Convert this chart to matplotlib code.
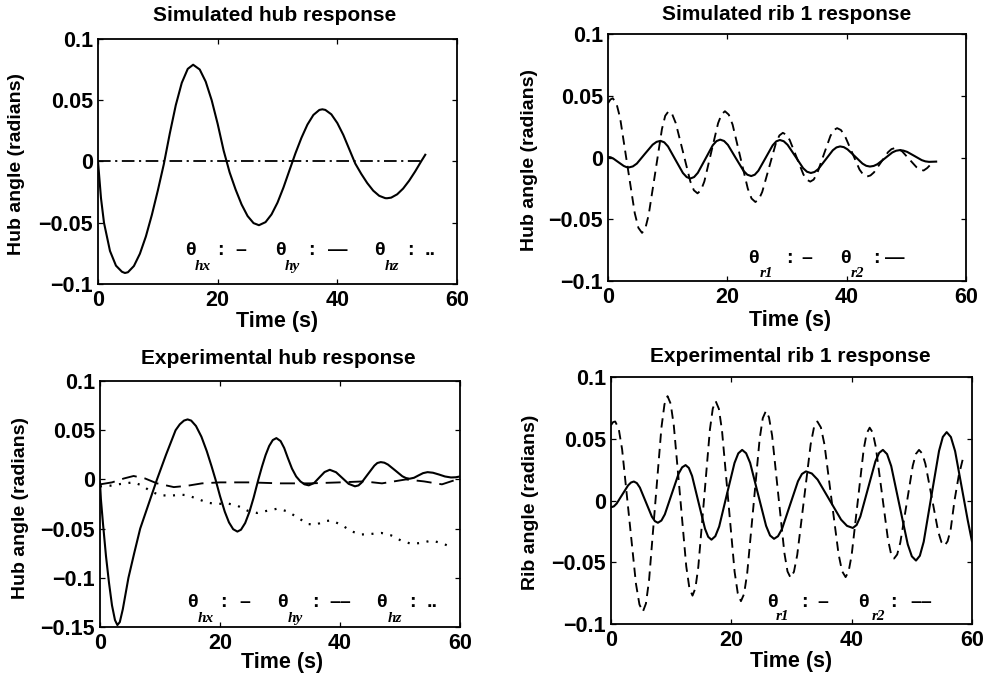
import matplotlib
matplotlib.use("Agg")
import matplotlib.pyplot as plt

plt.rcParams['font.family'] = ['Liberation Sans', 'DejaVu Sans']
plt.rcParams['font.weight'] = 'bold'
plt.rcParams['axes.unicode_minus'] = True

# ---------------- data ----------------
x_ticks = [0, 20, 40, 60]
x_tick_labels = ["0", "20", "40", "60"]
y_ticks_a = [-0.1, -0.05, 0, 0.05, 0.1]
y_tick_labels_a = ["\u22120.1", "\u22120.05", "0", "0.05", "0.1"]
y_ticks_b = [-0.15, -0.1, -0.05, 0, 0.05, 0.1]
y_tick_labels_b = ["\u22120.15", "\u22120.1", "\u22120.05", "0", "0.05", "0.1"]

titles = ["Simulated hub response", "Simulated rib 1 response",
          "Experimental hub response", "Experimental rib 1 response"]
ylabels = ["Hub angle (radians)", "Hub angle (radians)",
           "Hub angle (radians)", "Rib angle (radians)"]
xlabel = "Time (s)"

# Simulated hub: theta_hx
sim_hx_t = [0, 0.5, 1, 2, 3, 4, 4.5, 5, 6, 7, 8, 9, 10, 11, 12, 13, 14, 15, 15.9,
            17, 18, 19, 20, 21, 22, 23, 24, 25, 26, 26.9, 28, 29, 30, 31, 32, 33,
            34, 35, 36, 37, 37.5, 38, 39, 40, 41, 42, 43, 44, 45, 46, 47, 48, 48.3,
            49, 50, 51, 52, 53, 54, 54.7]
sim_hx = [0, -0.030, -0.050, -0.073, -0.085, -0.090, -0.091, -0.0904, -0.0853,
          -0.0753, -0.0612, -0.0436, -0.0236, -0.0022, 0.0229, 0.0460, 0.0642,
          0.0756, 0.079, 0.0751, 0.0652, 0.0500, 0.0307, 0.0089, -0.0089, -0.0229,
          -0.0351, -0.0445, -0.0503, -0.052, -0.0495, -0.0432, -0.0336, -0.0212,
          -0.0072, 0.0067, 0.0193, 0.0301, 0.0380, 0.0421, 0.0426, 0.0421, 0.0385,
          0.0314, 0.0217, 0.0100, -0.0017, -0.0101, -0.0176, -0.0238, -0.0280,
          -0.0299, -0.030, -0.0295, -0.0268, -0.0221, -0.0157, -0.0082, 0.0, 0.0055]
# Simulated hub: theta_hy / theta_hz (both at zero)
sim_hyz_t = [0, 54.7]
sim_hyz = [0, 0]

# Simulated rib 1: theta_r1 (solid)
sim_r1_t = [0, 0.44, 0.88, 1.75, 2.63, 3.06, 3.5, 4.16, 4.83, 6.15, 7.48, 8.14, 8.8,
            9.43, 10.05, 11.3, 12.55, 13.18, 13.8, 14.43, 15.05, 16.3, 17.55, 18.18,
            18.8, 19.45, 20.1, 21.4, 22.7, 23.35, 24.0, 24.6, 25.2, 26.4, 27.6, 28.2,
            28.8, 29.45, 30.1, 31.4, 32.7, 33.35, 34.0, 34.61, 35.23, 36.45, 37.68,
            38.29, 38.9, 39.53, 40.15, 41.4, 42.65, 43.28, 43.9, 44.53, 45.15, 46.4,
            47.65, 48.28, 48.9, 49.51, 50.13, 51.35, 52.58, 53.19, 53.8, 55.0]
sim_r1 = [0.0005, 0.0002, -0.0008, -0.0038, -0.0068, -0.0077, -0.0080, -0.0072,
          -0.0049, 0.0028, 0.0104, 0.0127, 0.0135, 0.0123, 0.0090, -0.0018, -0.0125,
          -0.0158, -0.0170, -0.0158, -0.0124, -0.0013, 0.0099, 0.0133, 0.0145,
          0.0134, 0.0102, -0.0003, -0.0107, -0.0139, -0.0150, -0.0139, -0.0107,
          -0.0004, 0.0099, 0.0131, 0.0142, 0.0132, 0.0103, 0.0009, -0.0086, -0.0115,
          -0.0125, -0.0117, -0.0094, -0.0018, 0.0059, 0.0082, 0.0090, 0.0084,
          0.0066, 0.0009, -0.0049, -0.0067, -0.0073, -0.0068, -0.0054, -0.0007,
          0.0041, 0.0055, 0.0060, 0.0056, 0.0046, 0.0013, -0.0021, -0.0031,
          -0.0035, -0.0033]
# Simulated rib 1: theta_r2 (dashed)
sim_r2_t = [0, 0.4, 0.8, 1.41, 2.03, 3.25, 4.48, 5.09, 5.7, 6.26, 6.81, 7.93, 9.04,
            9.59, 10.15, 10.76, 11.36, 12.58, 13.79, 14.39, 15.0, 15.58, 16.15, 17.3,
            18.45, 19.03, 19.6, 20.24, 20.88, 22.15, 23.43, 24.06, 24.7, 25.28,
            25.85, 27.0, 28.15, 28.73, 29.3, 29.88, 30.45, 31.6, 32.75, 33.33, 33.9,
            34.46, 35.03, 36.15, 37.28, 37.84, 38.4, 39.03, 39.65, 40.9, 42.15,
            42.78, 43.4, 43.99, 44.58, 45.75, 46.93, 47.51, 48.1, 48.7, 49.3, 50.5,
            51.7, 52.3, 52.9, 53.5, 54.0]
sim_r2 = [0.044, 0.047, 0.048, 0.0439, 0.0320, -0.0065, -0.0450, -0.0569, -0.061,
          -0.0573, -0.0466, -0.0118, 0.0231, 0.0338, 0.0375, 0.0350, 0.0278, 0.0043,
          -0.0193, -0.0265, -0.029, -0.0265, -0.0193, 0.0043, 0.0278, 0.0350, 0.0375,
          0.0347, 0.0267, 0.0008, -0.0252, -0.0332, -0.036, -0.0339, -0.0278, -0.008,
          0.0118, 0.0179, 0.020, 0.0185, 0.0142, 0.0003, -0.0137, -0.0180, -0.0195,
          -0.0179, -0.0132, 0.0022, 0.0175, 0.0222, 0.0238, 0.0223, 0.0181, 0.0042,
          -0.0097, -0.0139, -0.0154, -0.0145, -0.0120, -0.0039, 0.0043, 0.0068,
          0.0077, 0.0070, 0.0050, -0.0014, -0.0078, -0.0098, -0.0105, -0.0085, -0.006]

# Experimental hub: theta_hx (solid)
exp_hx_t = [0, 0.15, 0.5, 1.0, 1.5, 2.0, 2.5, 2.9, 3.3, 3.8, 4.3, 4.74, 5.7, 6.7, 8.1,
            9.5, 11.0, 12.6, 13.3, 14.0, 14.6, 15.2, 16.0, 16.9, 17.8, 18.6, 19.25,
            20.0, 20.8, 21.5, 22.2, 22.9, 23.5, 24.2, 24.9, 25.6, 26.4, 27.0, 27.6,
            28.2, 28.8, 29.4, 30.1, 30.7, 31.3, 32.0, 32.7, 33.4, 34.1, 34.8, 35.68,
            36.55, 37.43, 38.3, 39.35, 40.4, 41.45, 42.5, 43.08, 43.58, 44.65, 45.73,
            46.23, 46.8, 47.4, 48.0, 49.2, 50.4, 51.0, 51.6, 52.35, 53.1, 53.85, 54.6,
            55.5, 56.5, 57.5, 58.5, 59.3, 60.0]
exp_hx = [-0.003, -0.020, -0.045, -0.078, -0.105, -0.128, -0.143, -0.148, -0.145,
          -0.132, -0.115, -0.100, -0.075, -0.050, -0.025, 0.0, 0.025, 0.050, 0.056,
          0.0598, 0.061, 0.0598, 0.0543, 0.0435, 0.0287, 0.0133, 0.0, -0.0168,
          -0.0328, -0.0437, -0.0506, -0.053, -0.0511, -0.0443, -0.0331, -0.0187, 0.0,
          0.013, 0.0247, 0.034, 0.040, 0.042, 0.039, 0.032, 0.022, 0.011, 0.003,
          -0.002, -0.005, -0.006, -0.0037, 0.0019, 0.0075, 0.0098, 0.0073, 0.0014,
          -0.0045, -0.007, -0.0061, -0.0034, 0.0053, 0.0140, 0.0167, 0.0176, 0.0170,
          0.0151, 0.0092, 0.0032, 0.0014, 0.0007, 0.0017, 0.0041, 0.0064, 0.0074,
          0.0068, 0.0050, 0.0030, 0.0020, 0.0022, 0.003]
# Experimental hub: theta_hy (dashed)
exp_hy_t = [0, 2, 4, 5.6, 7.5, 9.5, 12.3, 14.5, 17, 20, 25, 30, 35, 40, 44, 47, 51,
            54, 57, 60]
exp_hy = [-0.005, -0.003, 0.001, 0.0035, 0.001, -0.004, -0.0078, -0.0065, -0.004,
          -0.003, -0.003, -0.004, -0.004, -0.003, -0.002, -0.004, 0.000, -0.002,
          -0.005, 0.001]
# Experimental hub: theta_hz (dotted)
exp_hz_t = [0, 1.67, 3.35, 5.5, 7.0, 8.4, 10.0, 11.7, 13.4, 14.5, 16.2, 17.9, 19.5,
            21.2, 22.9, 24.6, 26.2, 27.9, 29.6, 31.2, 32.9, 34.6, 36.0, 37.4, 38.5,
            40.2, 41.9, 43.5, 45.2, 46.9, 48.5, 50.2, 51.9, 53.6, 55.2, 56.9, 58.6]
exp_hz = [-0.0071, -0.0064, -0.0047, -0.003, -0.006, -0.012, -0.016, -0.0166,
          -0.0155, -0.016, -0.0196, -0.0236, -0.025, -0.0243, -0.0267, -0.0318,
          -0.0341, -0.0318, -0.0297, -0.0324, -0.0385, -0.0453, -0.046, -0.0426,
          -0.0416, -0.046, -0.0527, -0.056, -0.0554, -0.0544, -0.0568, -0.0622,
          -0.0655, -0.0645, -0.0622, -0.0645, -0.069]

# Experimental rib 1: theta_r1 (solid)
exp_r1_t = [0, 0.48, 0.95, 1.9, 2.85, 3.33, 3.8, 4.3, 4.8, 5.8, 6.8, 7.3, 7.8, 8.38,
            8.95, 10.1, 11.25, 11.83, 12.4, 12.94, 13.48, 14.55, 15.63, 16.16, 16.7,
            17.34, 17.98, 19.25, 20.53, 21.16, 21.8, 22.46, 23.13, 24.45, 25.78,
            26.44, 27.1, 27.76, 28.43, 29.75, 31.08, 31.74, 32.4, 33.38, 34.35, 36.3,
            38.25, 39.23, 40.2, 40.83, 41.45, 42.7, 43.95, 44.58, 45.2, 45.89, 46.58,
            47.95, 49.33, 50.01, 50.7, 51.34, 51.98, 53.25, 54.53, 55.16, 55.8, 56.5,
            57.2, 58.6, 59.3, 60.0]
exp_r1 = [-0.0055, -0.0047, -0.0024, 0.0050, 0.0123, 0.0146, 0.0154, 0.0141, 0.0105,
          -0.0013, -0.0131, -0.0167, -0.018, -0.0162, -0.0112, 0.0054, 0.0219, 0.0269,
          0.0287, 0.0264, 0.0199, -0.0015, -0.0229, -0.0294, -0.0317, -0.0289,
          -0.0211, 0.0047, 0.0304, 0.0382, 0.041, 0.0383, 0.0305, 0.005, -0.0205,
          -0.0283, -0.031, -0.0289, -0.0230, -0.0037, 0.0156, 0.0215, 0.0236, 0.0219,
          0.0169, 0.0007, -0.0155, -0.0205, -0.0222, -0.0198, -0.0129, 0.0094, 0.0317,
          0.0386, 0.041, 0.0376, 0.0279, -0.0038, -0.0355, -0.0452, -0.0486, -0.0447,
          -0.0334, 0.0034, 0.0402, 0.0515, 0.0554, 0.0514, 0.0400, 0.0027, -0.016,
          -0.033]
# Experimental rib 1: theta_r2 (dashed)
exp_r2_t = [0, 0.35, 0.7, 1.28, 1.85, 3.0, 4.15, 4.73, 5.3, 5.81, 6.33, 7.35, 8.38,
            8.89, 9.4, 9.92, 10.44, 11.48, 12.51, 13.03, 13.55, 14.03, 14.51, 15.48,
            16.44, 16.92, 17.4, 17.93, 18.45, 19.5, 20.55, 21.08, 21.6, 22.12, 22.64,
            23.68, 24.71, 25.23, 25.75, 26.26, 26.78, 27.8, 28.83, 29.34, 29.85,
            30.41, 30.96, 32.08, 33.19, 33.74, 34.3, 34.89, 35.48, 36.65, 37.83,
            38.41, 39.0, 39.5, 40.0, 41.0, 42.0, 42.5, 43.0, 43.51, 44.01, 45.03,
            46.04, 46.54, 47.05, 47.57, 48.09, 49.13, 50.16, 50.68, 51.2, 51.73,
            52.26, 53.33, 54.39, 54.92, 55.45, 55.95, 56.45, 57.1, 57.8, 58.45]
exp_r2 = [0.061, 0.0635, 0.064, 0.0582, 0.0414, -0.013, -0.0674, -0.0842, -0.090,
          -0.0834, -0.0644, -0.0028, 0.0589, 0.0779, 0.0845, 0.0784, 0.0608, 0.0038,
          -0.0533, -0.0709, -0.077, -0.0710, -0.0539, 0.0018, 0.0574, 0.0745, 0.0805,
          0.0743, 0.0568, -0.0005, -0.0578, -0.0753, -0.0815, -0.0757, -0.0589,
          -0.0045, 0.0499, 0.0667, 0.0725, 0.0674, 0.0527, 0.005, -0.0427, -0.0574,
          -0.0625, -0.0577, -0.0440, 0.0008, 0.0455, 0.0592, 0.064, 0.0592, 0.0455,
          0.001, -0.0435, -0.0572, -0.062, -0.0574, -0.0443, -0.0015, 0.0413, 0.0544,
          0.059, 0.0550, 0.0435, 0.006, -0.0315, -0.0430, -0.047, -0.0437, -0.0341,
          -0.003, 0.0281, 0.0377, 0.041, 0.0381, 0.0297, 0.0023, -0.0252, -0.0336,
          -0.0365, -0.033, -0.024, 0.0, 0.020, 0.033]

# Legend-like annotations (texts)
hub_subs = ["hx", "hy", "hz"]
hub_marks = ["\u2013", "\u2014", ".."]
hub_marks_exp = ["\u2013", "\u2013\u2013", ".."]
rib_subs = ["r1", "r2"]
rib_marks = ["\u2013", "\u2014"]
rib_marks_exp = ["\u2013", "\u2013\u2013"]

# ---------------- figure ----------------
fig = plt.figure(figsize=(9.93, 6.78), dpi=100)
fig.patch.set_facecolor("white")

pos = [
    [0.0987, 0.5811, 0.3615, 0.3614],
    [0.6123, 0.5855, 0.3605, 0.3643],
    [0.1007, 0.0752, 0.3625, 0.3628],
    [0.6153, 0.0796, 0.3635, 0.3643],
]
axs = [fig.add_axes(p) for p in pos]

LW = 1.5
DASH = (0, (5.0, 3.2))

ax = axs[0]
ax.plot(sim_hx_t, sim_hx, color="black", lw=LW)
ax.plot(sim_hyz_t, sim_hyz, color="black", lw=1.3, linestyle=(0, (7, 2.5, 1.2, 2.5)))

ax = axs[1]
ax.plot(sim_r1_t, sim_r1, color="black", lw=LW)
ax.plot(sim_r2_t, sim_r2, color="black", lw=1.35, linestyle=DASH)

ax = axs[2]
ax.plot(exp_hx_t, exp_hx, color="black", lw=LW)
ax.plot(exp_hy_t, exp_hy, color="black", lw=1.35, linestyle=(0, (8.0, 4.2)))
ax.plot(exp_hz_t, exp_hz, color="black", lw=1.6, linestyle=(0, (0.9, 3.4)))

ax = axs[3]
ax.plot(exp_r1_t, exp_r1, color="black", lw=LW)
ax.plot(exp_r2_t, exp_r2, color="black", lw=1.35, linestyle=DASH)

ylims = [(-0.1, 0.1), (-0.1, 0.1), (-0.15, 0.1), (-0.1, 0.1)]
yticks = [y_ticks_a, y_ticks_a, y_ticks_b, y_ticks_a]
yticklabels = [y_tick_labels_a, y_tick_labels_a, y_tick_labels_b, y_tick_labels_a]
ylab_x = [-0.226, -0.218, -0.222, -0.224]
ylab_y = [0.49, 0.49, 0.484, 0.492]
xlab_x = [0.50, 0.508, 0.505, 0.50]
xlab_y = [-0.155, -0.158, -0.146, -0.153]
title_y = [1.094, 1.081, 1.093, 1.085]
title_x = [0.493, 0.5, 0.495, 0.496]

for i, ax in enumerate(axs):
    ax.set_xlim(0, 60)
    ax.set_ylim(*ylims[i])
    ax.set_xticks(x_ticks)
    ax.set_xticklabels(x_tick_labels)
    ax.set_yticks(yticks[i])
    ax.set_yticklabels(yticklabels[i])
    ax.tick_params(direction="in", top=True, right=True, length=3.5, width=0.9,
                   labelsize=15.5)
    ax.tick_params(axis="x", pad=4.5)
    ax.tick_params(axis="y", pad=3.5)
    for lab in ax.get_xticklabels() + ax.get_yticklabels():
        lab.set_fontweight("bold")
    for s in ax.spines.values():
        s.set_linewidth(1.3)
    ax.text(ylab_x[i], ylab_y[i], ylabels[i], transform=ax.transAxes, rotation=90,
            ha="center", va="center", fontsize=14, fontweight="bold")
    ax.text(xlab_x[i], xlab_y[i], xlabel, transform=ax.transAxes,
            ha="center", va="center", fontsize=15.5, fontweight="bold")
    ax.text(title_x[i], title_y[i], titles[i], transform=ax.transAxes,
            ha="center", va="center", fontsize=15, fontweight="bold")


def annot(ax, xs_theta, xs_sub, xs_colon, xs_mark, y_theta, y_sub, subs, marks):
    for k in range(len(subs)):
        ax.text(xs_theta[k], y_theta, "\u03b8", transform=ax.transAxes, ha="center",
                va="center", fontsize=14, fontweight="bold")
        ax.text(xs_sub[k], y_sub, subs[k], transform=ax.transAxes, ha="center",
                va="center", fontsize=11, fontweight="bold", style="italic",
                family=["Liberation Serif", "DejaVu Serif"])
        ax.text(xs_colon[k], y_theta, ":", transform=ax.transAxes, ha="center",
                va="center", fontsize=14, fontweight="bold")
        ax.text(xs_mark[k], y_theta, marks[k], transform=ax.transAxes, ha="center",
                va="center", fontsize=14, fontweight="bold")


annot(axs[0], [0.258, 0.507, 0.783], [0.292, 0.542, 0.820], [0.340, 0.593, 0.871],
      [0.398, 0.667, 0.925], 0.136, 0.072, hub_subs, hub_marks)
annot(axs[1], [0.405, 0.662], [0.442, 0.698], [0.508, 0.751], [0.556, 0.800],
      0.093, 0.032, rib_subs, rib_marks)
annot(axs[2], [0.256, 0.508, 0.783], [0.294, 0.542, 0.818], [0.342, 0.597, 0.869],
      [0.403, 0.667, 0.922], 0.098, 0.036, hub_subs, hub_marks_exp)
annot(axs[3], [0.446, 0.698], [0.476, 0.740], [0.537, 0.781], [0.587, 0.859],
      0.089, 0.032, rib_subs, rib_marks_exp)

fig.savefig("out.png", dpi=100, facecolor="white")
